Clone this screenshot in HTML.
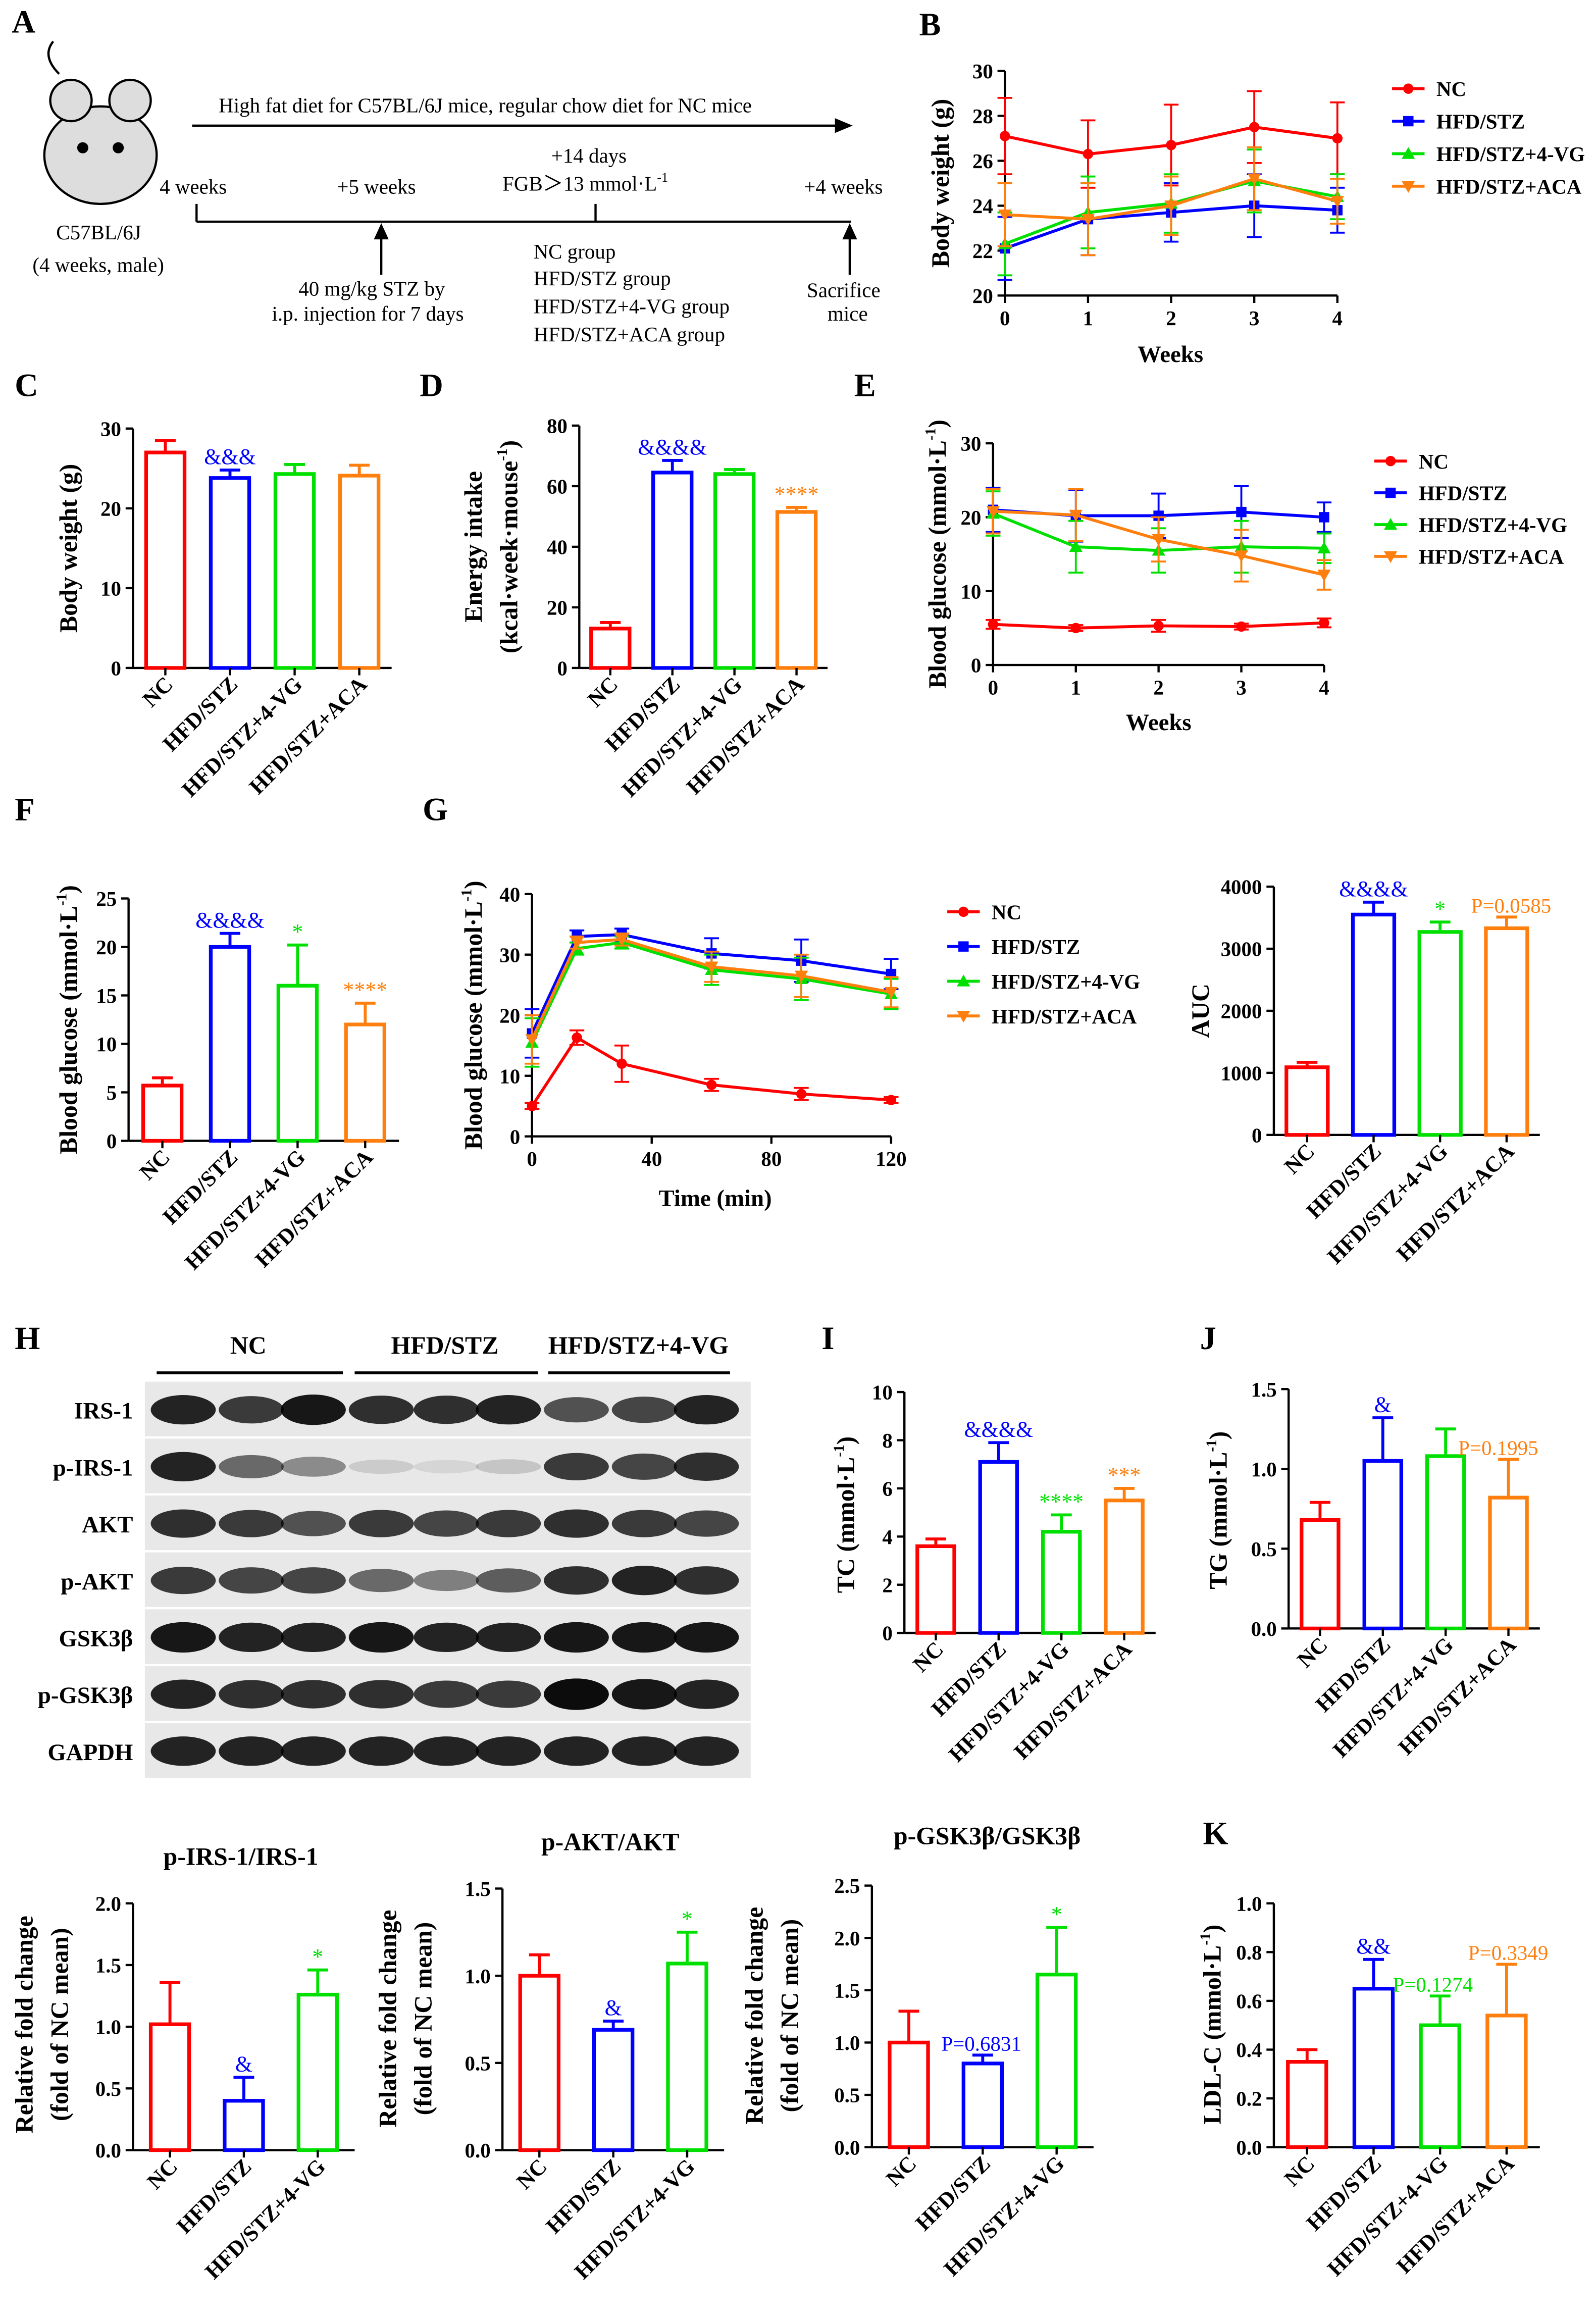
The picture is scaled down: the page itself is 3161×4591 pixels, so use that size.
<!DOCTYPE html>
<html><head><meta charset="utf-8"><style>
html,body{margin:0;padding:0;background:#fff}
svg{display:block}
text{font-family:"Liberation Serif",serif}
</style></head><body>
<svg id="fig" width="3161" height="4591" viewBox="0 0 1080 1568.6" xmlns="http://www.w3.org/2000/svg">
<g font-family="Liberation Serif" font-size="14">
<text x="8" y="22" font-size="22" font-weight="bold" font-family="Liberation Sans">A</text>
<g fill="none" stroke="#000" stroke-width="1.5">
<ellipse cx="68" cy="105" rx="38" ry="33" fill="#ddd"/>
<circle cx="48" cy="68" r="14" fill="#ddd"/><circle cx="88" cy="68" r="14" fill="#ddd"/>
<circle cx="56" cy="100" r="3" fill="#000"/><circle cx="80" cy="100" r="3" fill="#000"/>
<path d="M40 50 Q28 38 36 28"/>
</g>
<text x="38" y="162">C57BL/6J</text><text x="22" y="184">(4 weeks, male)</text>
<line x1="130" y1="85" x2="570" y2="85" stroke="#000" stroke-width="1.5"/><path d="M577 85 l-12 -5 v10z"/>
<text x="148" y="76">High fat diet for C57BL/6J mice, regular chow diet for NC mice</text>
<line x1="133" y1="150" x2="576" y2="150" stroke="#000" stroke-width="1.5"/>
<line x1="133" y1="138" x2="133" y2="150" stroke="#000" stroke-width="1.5"/>
<line x1="403" y1="138" x2="403" y2="150" stroke="#000" stroke-width="1.5"/>
<line x1="258" y1="186" x2="258" y2="158" stroke="#000" stroke-width="1.5"/><path d="M258 151 l-5 11 h10z"/>
<line x1="575" y1="186" x2="575" y2="158" stroke="#000" stroke-width="1.5"/><path d="M575 151 l-5 11 h10z"/>
<text x="108" y="131">4 weeks</text><text x="228" y="131">+5 weeks</text>
<text x="373" y="110">+14 days</text><text x="340" y="129">FGB＞13 mmol·L<tspan font-size="9" dy="-6">-1</tspan></text>
<text x="544" y="131">+4 weeks</text>
<text x="202" y="200">40 mg/kg STZ by</text><text x="184" y="217">i.p. injection for 7 days</text>
<text x="361" y="175">NC group</text><text x="361" y="193">HFD/STZ group</text><text x="361" y="212">HFD/STZ+4-VG group</text><text x="361" y="231">HFD/STZ+ACA group</text>
<text x="546" y="201">Sacrifice</text><text x="560" y="217">mice</text>
</g>
<g id="blot"></g>
<g id="charts"></g>
</svg>
<script>
// ---------- data ----------
const groups4 = ["NC","HFD/STZ","HFD/STZ+4-VG","HFD/STZ+ACA"];
const groups3 = ["NC","HFD/STZ","HFD/STZ+4-VG"];
const colors = ["#ff0000","#0000ff","#00e000","#ff7f0e"];
const weeks = [0,1,2,3,4];
const bNC=[27.1,26.3,26.7,27.5,27.0], bHFD=[22.1,23.4,23.7,24.0,23.8], bVG=[22.3,23.7,24.1,25.1,24.4], bACA=[23.6,23.4,24.0,25.2,24.2];
const bErr=[1.7,1.5,1.8,1.6,1.6], bErr2=[1.4,1.6,1.3,1.4,1.0];
const cVals=[27,23.8,24.3,24.1], cErr=[1.5,1.0,1.2,1.3];
const dVals=[13,64.5,64,51.5], dErr=[2,4,1.5,1.5];
const eNC=[5.5,5.0,5.3,5.2,5.7], eHFD=[21,20.2,20.2,20.7,20.0], eVG=[20.5,16.0,15.5,16.0,15.8], eACA=[20.8,20.3,17.0,14.8,12.2];
const eErr=[3,3.5,3,3.5,2], eErrNC=[0.6,0.4,0.8,0.4,0.6];
const fVals=[5.7,20,16,12], fErr=[0.8,1.4,4.2,2.2];
const times=[0,15,30,60,90,120];
const gNC=[5,16.3,12,8.5,7,6], gHFD=[17,33,33.3,30.2,29,26.8], gVG=[15.5,31,32,27.5,26,23.5], gACA=[16,32,32.5,28,26.5,23.8];
const gErr=[4,1,1,2.5,3.5,2.5], gErrNC=[0.5,1.2,3,1,1,0.5];
const aucVals=[1090,3550,3270,3330], aucErr=[80,200,160,180];
const iVals=[3.6,7.1,4.2,5.5], iErr=[0.3,0.8,0.7,0.5];
const jVals=[0.68,1.05,1.08,0.82], jErr=[0.11,0.27,0.17,0.24];
const irsVals=[1.02,0.40,1.26], irsErr=[0.34,0.19,0.2];
const aktVals=[1.0,0.69,1.07], aktErr=[0.12,0.05,0.18];
const gskVals=[1.0,0.8,1.65], gskErr=[0.3,0.08,0.45];
const kVals=[0.35,0.65,0.50,0.54], kErr=[0.05,0.12,0.12,0.21];
const blotRows=["IRS-1","p-IRS-1","AKT","p-AKT","GSK3β","p-GSK3β","GAPDH"];
const blotIntensity=[[.85,.75,.9,.8,.8,.85,.65,.7,.85],[.85,.55,.4,.12,.08,.15,.75,.7,.8],[.8,.75,.65,.75,.7,.75,.8,.75,.7],[.75,.7,.7,.55,.45,.6,.8,.85,.8],[.9,.85,.85,.9,.85,.85,.9,.9,.9],[.85,.8,.8,.8,.75,.75,.95,.9,.85],[.85,.85,.85,.85,.85,.85,.85,.85,.85]];

const NS="http://www.w3.org/2000/svg";
const root=document.getElementById('charts');
function mk(tag,attrs,parent){const e=document.createElementNS(NS,tag);for(const k in attrs)e.setAttribute(k,attrs[k]);(parent||root).appendChild(e);return e;}
function txt(s,attrs,parent){const e=mk('text',attrs,parent);e.textContent=s;return e;}
function sup(e,base,s){e.textContent=base;const t=document.createElementNS(NS,'tspan');t.setAttribute('font-size','10');t.setAttribute('dy','-7');t.textContent=s;e.appendChild(t);const t2=document.createElementNS(NS,'tspan');t2.setAttribute('dy','7');t2.textContent=')';e.appendChild(t2);}

function yAxis(g,x,y0,y1,vmin,vmax,ticks,fmt){
  const sy=v=>y0-(v-vmin)/(vmax-vmin)*(y0-y1);
  const ax=mk('line',{x1:x,y1:y0,x2:x,y2:y1,stroke:'#000','stroke-width':1.5},g);
  
  
  ticks.forEach(t=>{mk('line',{x1:x-5,x2:x,y1:sy(t),y2:sy(t),stroke:'#000','stroke-width':1.5},g);
    const l=txt(fmt?fmt(t):String(t),{x:x-8,y:sy(t)+5,'text-anchor':'end','font-size':14,'font-weight':'bold'},g);
    
    });
  return sy;
}
function yTitle(g,x,y,s,supS){const t=mk('text',{transform:`translate(${x},${y}) rotate(-90)`,'text-anchor':'middle','font-size':17,'font-weight':'bold'},g);
  if(supS){sup(t,s,supS);} else t.textContent=s;
  
  }

function bar(name,x0,x1,y0,y1,vmax,ticks,cats,cols,vals,errs,notes,fmt,bw){
  const g=mk('g',{});
  
  
  const sy=yAxis(g,x0,y0,y1,0,vmax,ticks,fmt);
  mk('line',{x1:x0,x2:x1,y1:y0,y2:y0,stroke:'#000','stroke-width':1.5},g);
  const step=(x1-x0)/cats.length; bw=bw||26;
  cats.forEach((c,i)=>{const cx=x0+step*(i+0.5);const top=sy(vals[i]);const et=sy(vals[i]+errs[i]);
    const r=mk('rect',{x:cx-bw/2,y:top,width:bw,height:y0-top,fill:'none',stroke:cols[i],'stroke-width':2.5},g);
    
    
    mk('line',{x1:cx,x2:cx,y1:top,y2:et,stroke:cols[i],'stroke-width':2},g);
    mk('line',{x1:cx-7,x2:cx+7,y1:et,y2:et,stroke:cols[i],'stroke-width':2},g);
    mk('line',{x1:cx,x2:cx,y1:y0,y2:y0+5,stroke:'#000','stroke-width':1.5},g);
    const l=txt(c,{transform:`translate(${cx+6},${y0+12}) rotate(-45)`,'text-anchor':'end','font-size':15,'font-weight':'bold'},g);
    
    
    if(notes&&notes[i]){const n=notes[i];const isP=n[0].startsWith('P');
      const a=txt(n[0],{x:cx+(n[1]||0),y:et-(isP?3:4),'text-anchor':n[2]||'middle','font-size':isP?14:15,style:'fill:'+cols[i]},g);
      
      }
  });
  return g;
}
function marker(g,type,x,y,c){
  if(type===0) mk('circle',{cx:x,cy:y,r:3.5,fill:c},g);
  else if(type===1) mk('rect',{x:x-3.5,y:y-3.5,width:7,height:7,fill:c},g);
  else if(type===2) mk('path',{d:`M${x} ${y-4.5}l4.5 8h-9z`,fill:c},g);
  else mk('path',{d:`M${x} ${y+4.5}l4.5 -8h-9z`,fill:c},g);
}
function lineChart(name,x0,x1,y0,y1,xs,xmax,xt,vmax,yt,series,errs,legendX,legendY,legendGap){
  const g=mk('g',{});
  
  
  const sy=yAxis(g,x0,y0,y1,yt[0],vmax,yt);
  const sx=v=>x0+v/xmax*(x1-x0);
  mk('line',{x1:x0,x2:x1,y1:y0,y2:y0,stroke:'#000','stroke-width':1.5},g);
  xt.forEach(t=>{mk('line',{x1:sx(t),x2:sx(t),y1:y0,y2:y0+5,stroke:'#000','stroke-width':1.5},g);
    const l=txt(String(t),{x:sx(t),y:y0+20,'text-anchor':'middle','font-size':14,'font-weight':'bold'},g);
    
    });
  series.forEach((s,k)=>{const c=colors[k];
    const pts=s.map((v,i)=>sx(xs[i])+','+sy(v)).join(' ');
    const p=mk('polyline',{points:pts,fill:'none',stroke:c,'stroke-width':2},g);
    
    
    s.forEach((v,i)=>{const e=errs[k][i];const x=sx(xs[i]);
      mk('line',{x1:x,x2:x,y1:sy(v-e),y2:sy(v+e),stroke:c,'stroke-width':1.3},g);
      mk('line',{x1:x-5,x2:x+5,y1:sy(v+e),y2:sy(v+e),stroke:c,'stroke-width':1.3},g);
      mk('line',{x1:x-5,x2:x+5,y1:sy(v-e),y2:sy(v-e),stroke:c,'stroke-width':1.3},g);
      marker(g,k,x,sy(v),c);});
  });
  groups4.forEach((n,k)=>{const y=legendY+k*legendGap;
    const lg=mk('g',{},g);
    
    
    mk('line',{x1:legendX,x2:legendX+22,y1:y,y2:y,stroke:colors[k],'stroke-width':2},lg);
    marker(lg,k,legendX+11,y,colors[k]);
    txt(n,{x:legendX+30,y:y+5,'font-size':14,'font-weight':'bold'},lg);});
  return g;
}
function letter(s,x,y){const t=txt(s,{x:x,y:y,'font-size':22,'font-weight':'bold','font-family':'Liberation Sans'});
  
  }
function title(s,x,y){const t=txt(s,{x:x,y:y,'text-anchor':'middle','font-size':17,'font-weight':'bold'});
  
  }
function xTitle(s,x,y){const t=txt(s,{x:x,y:y,'text-anchor':'middle','font-size':16,'font-weight':'bold'});
  
  }

// B
letter('B',622,24);
const gB=lineChart('chart-b-body-weight',680,905,200,48,weeks,4,weeks,30,[20,22,24,26,28,30],[bNC,bHFD,bVG,bACA],[bErr,bErr2,bErr2,bErr2],942,60,22);
yTitle(gB,642,124,'Body weight (g)');xTitle('Weeks',792,245);
// C
letter('C',10,268);
const gC=bar('chart-c-body-weight',90,265,452,290,30,[0,10,20,30],groups4,colors,cVals,cErr,[null,['&&&']]);
yTitle(gC,52,371,'Body weight (g)');
// D
letter('D',284,268);
const gD=bar('chart-d-energy-intake',392,560,452,288,80,[0,20,40,60,80],groups4,colors,dVals,dErr,[null,['&&&&'],null,['****']]);
yTitle(gD,326,370,'Energy intake');yTitle(gD,350,370,'(kcal·week·mouse','-1');
// E
letter('E',578,268);
const gE=lineChart('chart-e-blood-glucose',672,896,450,300,weeks,4,weeks,30,[0,10,20,30],[eNC,eHFD,eVG,eACA],[eErrNC,eErr,eErr,eErr],930,312,21.5);
yTitle(gE,640,375,'Blood glucose (mmol·L','-1');xTitle('Weeks',784,494);
// F
letter('F',10,555);
const gF=bar('chart-f-blood-glucose',87,270,772,608,25,[0,5,10,15,20,25],groups4,colors,fVals,fErr,[null,['&&&&'],['*'],['****']]);
yTitle(gF,52,690,'Blood glucose (mmol·L','-1');
// G
letter('G',286,555);
const gG=lineChart('chart-g-ipgtt',360,603,769,605,times,120,[0,40,80,120],40,[0,10,20,30,40],[gNC,gHFD,gVG,gACA],[gErrNC,gErr,gErr,gErr],641,617,23.5);
yTitle(gG,326,687,'Blood glucose (mmol·L','-1');xTitle('Time (min)',484,816);
const gA=bar('chart-g-auc',862,1042,768,600,4000,[0,1000,2000,3000,4000],groups4,colors,aucVals,aucErr,[null,['&&&&'],['*'],['P=0.0585',-24,'start']],null,28);
yTitle(gA,818,684,'AUC');
// I
letter('I',556,913);
const gI=bar('chart-i-tc',612,782,1105,942,10,[0,2,4,6,8,10],groups4,colors,iVals,iErr,[null,['&&&&'],['****'],['***']],null,25);
yTitle(gI,578,1025,'TC (mmol·L','-1');
// J
letter('J',812,913);
const gJ=bar('chart-j-tg',872,1042,1102,940,1.5,[0,0.5,1,1.5],groups4,colors,jVals,jErr,[null,['&'],null,['P=0.1995',-34,'start']],t=>t.toFixed(1),25);
yTitle(gJ,830,1022,'TG (mmol·L','-1');
// bottom row
title('p-IRS-1/IRS-1',163,1262);
const gP1=bar('chart-p-irs1',90,240,1455,1288,2.0,[0,0.5,1,1.5,2],groups3,colors,irsVals,irsErr,[null,['&'],['*']],t=>t.toFixed(1),26);
yTitle(gP1,22,1370,'Relative fold change');yTitle(gP1,46,1370,'(fold of NC mean)');
title('p-AKT/AKT',413,1252);
const gP2=bar('chart-p-akt',340,490,1455,1278,1.5,[0,0.5,1,1.5],groups3,colors,aktVals,aktErr,[null,['&'],['*']],t=>t.toFixed(1),26);
yTitle(gP2,268,1366,'Relative fold change');yTitle(gP2,292,1366,'(fold of NC mean)');
title('p-GSK3β/GSK3β',668,1248);
const gP3=bar('chart-p-gsk3b',590,740,1453,1276,2.5,[0,0.5,1,1.5,2,2.5],groups3,colors,gskVals,gskErr,[null,['P=0.6831',-28,'start'],['*']],t=>t.toFixed(1),26);
yTitle(gP3,516,1364,'Relative fold change');yTitle(gP3,540,1364,'(fold of NC mean)');
letter('K',814,1248);
const gK=bar('chart-k-ldl',862,1042,1453,1288,1.0,[0,0.2,0.4,0.6,0.8,1],groups4,colors,kVals,kErr,[null,['&&'],['P=0.1274',-32,'start'],['P=0.3349',-26,'start']],t=>t.toFixed(1),26);
yTitle(gK,826,1370,'LDL-C (mmol·L','-1');

// H blot
const bg=document.getElementById('blot');
letter('H',10,913);
[['NC',168],['HFD/STZ',301],['HFD/STZ+4-VG',432]].forEach(([s,x])=>{const t=txt(s,{x:x,y:916,'text-anchor':'middle','font-size':17,'font-weight':'bold'},bg);
  
  });
[[106,232],[240,364],[371,494]].forEach(([a,b])=>mk('line',{x1:a,x2:b,y1:929,y2:929,stroke:'#000','stroke-width':2},bg));
const laneX=[124,170,212,258,302,344,390,436,478];
blotRows.forEach((r,i)=>{const y=935+i*38.5;
  const t=txt(r,{x:90,y:y+25,'text-anchor':'end','font-size':16,'font-weight':'bold'},bg);
  
  
  mk('rect',{x:98,y:y,width:410,height:37,fill:'#e8e8e8'},bg);
  blotIntensity[i].forEach((v,j)=>{const b=mk('ellipse',{cx:laneX[j],cy:y+19,rx:22,ry:4+7*v,fill:'#000','fill-opacity':v},bg);
    
    });
});
</script>
</body></html>
